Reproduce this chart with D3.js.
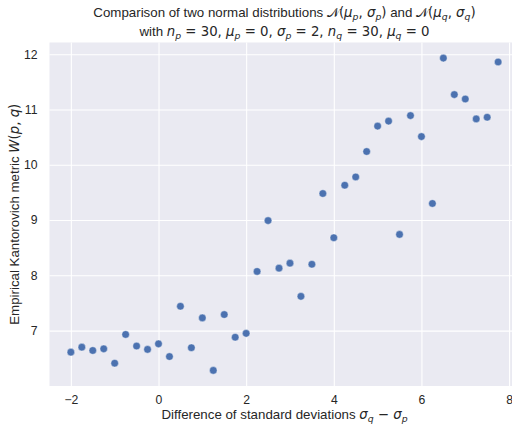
<!DOCTYPE html>
<html><head><meta charset="utf-8">
<script src="https://cdn.jsdelivr.net/npm/d3@7"></script>
<style>
html,body{margin:0;padding:0;background:#fff;}
svg{display:block;font-family:"Liberation Sans",Arial,sans-serif;}
</style></head>
<body>
<script>
const xValues = [-2,-1.75,-1.5,-1.25,-1,-0.75,-0.5,-0.25,0,0.25,0.5,0.75,1,1.25,1.5,1.75,2,2.25,2.5,2.75,3,3.25,3.5,3.75,4,4.25,4.5,4.75,5,5.25,5.5,5.75,6,6.25,6.5,6.75,7,7.25,7.5,7.75];
const yValues = [6.61,6.70,6.64,6.67,6.41,6.93,6.72,6.66,6.76,6.53,7.44,6.69,7.23,6.28,7.29,6.88,6.95,8.07,8.99,8.13,8.22,7.62,8.20,9.48,8.68,9.63,9.78,10.24,10.70,10.79,8.74,10.89,10.51,9.30,11.93,11.27,11.19,10.83,10.86,11.86];
const xTicks = [-2,0,2,4,6,8];
const yTicks = [7,8,9,10,11,12];

const W = 512, H = 425;
const mLeft = 49.5, mTop = 42.5, mRight = 519.5, mBottom = 386;
const textColor = "#262626";

const svg = d3.select("body").append("svg").attr("width", W).attr("height", H);

const xMin = d3.min(xValues), xMax = d3.max(xValues);
const yMin = d3.min(yValues), yMax = d3.max(yValues);
const xPad = (xMax - xMin) * 0.05, yPad = (yMax - yMin) * 0.05;
const x = d3.scaleLinear().domain([xMin - xPad, xMax + xPad]).range([mLeft, mRight]);
const y = d3.scaleLinear().domain([yMin - yPad, yMax + yPad]).range([mBottom, mTop]);

svg.append("rect").attr("x", mLeft).attr("y", mTop).attr("width", mRight - mLeft).attr("height", mBottom - mTop).attr("fill", "#EAEAF2");

const fmt = d => d < 0 ? "\u2212" + Math.abs(d) : String(d);
const xAxis = svg.append("g").attr("transform", `translate(0,${mBottom})`)
  .call(d3.axisBottom(x).tickValues(xTicks).tickSize(-(mBottom - mTop)).tickPadding(9).tickFormat(fmt));
const yAxis = svg.append("g").attr("transform", `translate(${mLeft},0)`)
  .call(d3.axisLeft(y).tickValues(yTicks).tickSize(-(mRight - mLeft)).tickPadding(12).tickFormat(fmt));
[xAxis, yAxis].forEach(g => {
  g.select(".domain").remove();
  g.selectAll(".tick line").attr("stroke", "#fff").attr("stroke-width", 1.1);
  g.selectAll(".tick text").attr("fill", textColor).attr("font-size", 12.2).attr("font-family", "Liberation Sans, Arial, sans-serif");
});

svg.append("g").selectAll("circle").data(xValues.map((d, i) => [d, yValues[i]])).join("circle")
  .attr("cx", d => x(d[0])).attr("cy", d => y(d[1])).attr("r", 3.8)
  .attr("fill", "#4C72B0").attr("stroke", "#fff").attr("stroke-width", 0.4);

const cx = (mLeft + mRight) / 2;
const mathFont = "DejaVu Sans";
// part: t text, i italic math, m upright math, s subscript (shift down, small), u return to baseline
function addParts(t, parts) {
  parts.forEach(p => {
    const ts = t.append("tspan").text(p.t);
    if (p.i) ts.attr("font-style", "italic").attr("font-family", mathFont);
    if (p.m) ts.attr("font-family", mathFont);
    if (p.s) ts.attr("font-size", "70%").attr("dy", 3);
    if (p.u) ts.attr("dy", -3);
  });
}
const t1 = svg.append("text").attr("x", cx).attr("y", 17).attr("text-anchor", "middle").attr("fill", textColor).attr("font-size", 13.3);
addParts(t1, [
  {t: "Comparison of two normal distributions "},
  {t: "\uD835\uDCA9", m: 1}, {t: "(", m: 1}, {t: "\u03BC", i: 1}, {t: "p", i: 1, s: 1}, {t: ", ", m: 1, u: 1}, {t: "\u03C3", i: 1}, {t: "p", i: 1, s: 1}, {t: ")", m: 1, u: 1},
  {t: " and "},
  {t: "\uD835\uDCA9", m: 1}, {t: "(", m: 1}, {t: "\u03BC", i: 1}, {t: "q", i: 1, s: 1}, {t: ", ", m: 1, u: 1}, {t: "\u03C3", i: 1}, {t: "q", i: 1, s: 1}, {t: ")", m: 1, u: 1}
]);
const t2 = svg.append("text").attr("x", cx).attr("y", 36).attr("text-anchor", "middle").attr("fill", textColor).attr("font-size", 13.3);
addParts(t2, [
  {t: "with "},
  {t: "n", i: 1}, {t: "p", i: 1, s: 1}, {t: " = 30, ", m: 1, u: 1},
  {t: "\u03BC", i: 1}, {t: "p", i: 1, s: 1}, {t: " = 0, ", m: 1, u: 1},
  {t: "\u03C3", i: 1}, {t: "p", i: 1, s: 1}, {t: " = 2, ", m: 1, u: 1},
  {t: "n", i: 1}, {t: "q", i: 1, s: 1}, {t: " = 30, ", m: 1, u: 1},
  {t: "\u03BC", i: 1}, {t: "q", i: 1, s: 1}, {t: " = 0", m: 1, u: 1}
]);
const xl = svg.append("text").attr("x", cx).attr("y", 419).attr("text-anchor", "middle").attr("fill", textColor).attr("font-size", 13.3);
addParts(xl, [
  {t: "Difference of standard deviations "},
  {t: "\u03C3", i: 1}, {t: "q", i: 1, s: 1}, {t: " \u2212 ", m: 1, u: 1}, {t: "\u03C3", i: 1}, {t: "p", i: 1, s: 1}
]);
const yl = svg.append("text").attr("transform", `translate(19,${(mTop + mBottom) / 2}) rotate(-90)`).attr("text-anchor", "middle").attr("fill", textColor).attr("font-size", 13.3);
addParts(yl, [
  {t: "Empirical Kantorovich metric "},
  {t: "W", i: 1}, {t: "(", m: 1}, {t: "p", i: 1}, {t: ", ", m: 1}, {t: "q", i: 1}, {t: ")", m: 1}
]);
</script>
</body></html>
